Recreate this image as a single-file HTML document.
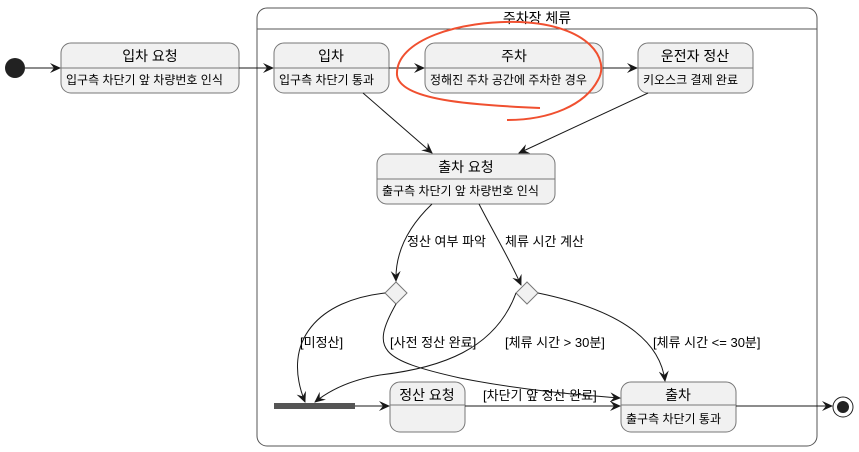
<html><body style="margin:0;background:#fff">
<svg width="859" height="452" xmlns="http://www.w3.org/2000/svg" style="font-family:'Liberation Sans','Noto Sans CJK KR',sans-serif">
<defs><marker id="a" markerWidth="12" markerHeight="10" refX="10" refY="5" orient="auto" markerUnits="userSpaceOnUse"><path d="M0,0 L11,5 L0,10 L4,5 Z" fill="#181818"/></marker></defs>
<g stroke="#181818" stroke-width="1" fill="none">
<rect x="257" y="8" width="560" height="438" rx="10" fill="#fff" stroke="#555"/>
<line x1="257" y1="29" x2="817" y2="29" stroke="#555"/>
</g>
<text x="537" y="23" font-size="14" text-anchor="middle" fill="#000">주차장 체류</text>
<circle cx="15" cy="68" r="10" fill="#222"/>
<g fill="#f1f1f1" stroke="#777">
<rect x="61" y="43" width="178" height="50" rx="10"/>
<rect x="274" y="43" width="115" height="50" rx="10"/>
<rect x="425" y="43" width="178" height="50" rx="10"/>
<rect x="638" y="43" width="115" height="50" rx="10"/>
<rect x="377" y="154" width="178" height="50" rx="10"/>
<rect x="390" y="382" width="75" height="50" rx="10"/>
<rect x="621" y="382" width="115" height="50" rx="10"/>
<path d="M396,282 L407,293 L396,304 L385,293 Z"/>
<path d="M527,282 L538,293 L527,304 L516,293 Z"/>
</g>
<g stroke="#777"><line x1="61" y1="68" x2="239" y2="68"/><line x1="274" y1="68" x2="389" y2="68"/><line x1="425" y1="68" x2="603" y2="68"/><line x1="638" y1="68" x2="753" y2="68"/><line x1="377" y1="179" x2="555" y2="179"/><line x1="390" y1="405" x2="465" y2="405"/><line x1="621" y1="405" x2="736" y2="405"/></g>
<rect x="274" y="403" width="81" height="6" fill="#555"/>
<circle cx="843" cy="407" r="10" fill="#fff" stroke="#222"/><circle cx="843" cy="407" r="6" fill="#222"/>
<g font-size="14" text-anchor="middle" fill="#000">
<text x="150" y="61">입차 요청</text><text x="331" y="61">입차</text><text x="514" y="61">주차</text><text x="695" y="61">운전자 정산</text><text x="466" y="172">출차 요청</text><text x="427" y="400">정산 요청</text><text x="678" y="400">출차</text>
</g>
<g font-size="12" fill="#000">
<text x="66" y="84">입구측 차단기 앞 차량번호 인식</text><text x="279" y="84">입구측 차단기 통과</text><text x="430" y="84">정해진 주차 공간에 주차한 경우</text><text x="643" y="84">키오스크 결제 완료</text><text x="382" y="195">출구측 차단기 앞 차량번호 인식</text><text x="626" y="423">출구측 차단기 통과</text>
</g>
<g font-size="13" fill="#000">
<text x="407" y="246">정산 여부 파악</text><text x="505" y="246">체류 시간 계산</text><text x="300" y="347">[미정산]</text><text x="390" y="347">[사전 정산 완료]</text><text x="505" y="347">[체류 시간 &gt; 30분]</text><text x="653" y="347">[체류 시간 &lt;= 30분]</text><text x="483" y="400">[차단기 앞 정산 완료]</text>
</g>
<g stroke="#181818" fill="none" marker-end="url(#a)">
<line x1="25" y1="68" x2="60" y2="68"/>
<line x1="239" y1="68" x2="273" y2="68"/>
<line x1="389" y1="68" x2="424" y2="68"/>
<line x1="603" y1="68" x2="637" y2="68"/>
<line x1="363" y1="93" x2="432" y2="153"/>
<line x1="648" y1="93" x2="519" y2="153"/>
<path d="M432,204 C410,225 395,250 396,281"/>
<path d="M479,204 C495,235 510,260 521,285"/>
<path d="M385,293 C320,300 280,340 305,402"/>
<path d="M396,304 C370,350 380,360 460,378 C520,390 580,395 620,398"/>
<path d="M516,293 C495,350 440,368 380,375 C350,380 330,390 315,402"/>
<path d="M538,293 C620,310 660,340 665,381"/>
<line x1="355" y1="406" x2="389" y2="406"/>
<line x1="465" y1="406" x2="620" y2="406"/>
<line x1="736" y1="406" x2="832" y2="406"/>
</g>
<path d="M540,108 C470,105 400,100 397,75 C395,40 460,20 520,22 C590,25 610,60 598,80 C585,105 550,120 507,120" stroke="#f05030" stroke-width="2" fill="none"/>
</svg>
</body></html>
